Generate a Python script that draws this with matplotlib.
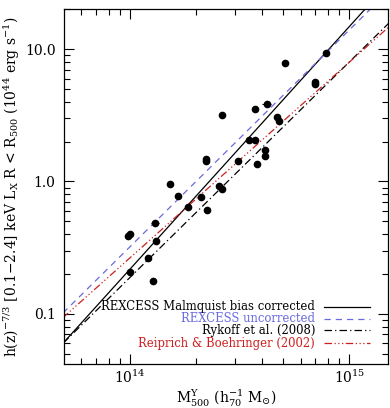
import matplotlib
matplotlib.use("Agg")
import matplotlib.pyplot as plt
import numpy as np
from matplotlib.lines import Line2D
from matplotlib.ticker import FixedLocator, NullFormatter

plt.rcParams['font.family'] = ['DejaVu Serif']
plt.rcParams['mathtext.fontset'] = 'dejavuserif'

# REXCESS clusters: M500 (Y_X based, 1e14 h70^-1 Msun) and scaled L_X (1e44 erg/s)
mass = [7.84, 5.10, 7.00, 6.95, 4.20, 3.72, 2.62, 4.70, 4.80, 3.50,
        3.72, 4.11, 4.11, 3.78, 3.10, 2.22, 2.21, 2.54, 2.63, 2.10,
        1.83, 2.24, 1.66, 1.52, 1.30, 0.975, 1.00, 1.32, 1.21, 1.00, 1.27]
lum = [9.34, 7.80, 5.63, 5.48, 3.88, 3.54, 3.19, 3.06, 2.84, 2.07,
       2.05, 1.74, 1.57, 1.36, 1.43, 1.48, 1.42, 0.917, 0.878, 0.767,
       0.639, 0.611, 0.776, 0.957, 0.485, 0.388, 0.402, 0.354, 0.266, 0.208, 0.176]
mass_err = [0, 0, 0, 0, 0.20, 0, 0, 0, 0, 0,
            0, 0, 0, 0, 0, 0, 0, 0, 0, 0,
            0, 0, 0, 0, 0.06, 0, 0, 0, 0, 0, 0]

# relations L = A * (M / 2e14)^B
fit_names = ["REXCESS Malmquist bias corrected", "REXCESS uncorrected",
             "Rykoff et al. (2008)", "Reiprich & Boehringer (2002)"]
fit_norm = [0.775, 1.00, 0.582, 0.738]
fit_slope = [1.835, 1.64, 1.63, 1.48]
fit_colors = ["black", "#6a6ae0", "black", "#cc1f1f"]
fit_dashes = [None, (5, 4), (6, 2.5, 1, 2.5), (6, 2, 1, 2, 1, 2, 1, 2)]

fig = plt.figure(figsize=(3.9, 4.08), dpi=100)
ax = fig.add_axes([0.164, 0.109, 0.831, 0.868])
ax.set_xscale('log')
ax.set_yscale('log')

m = np.logspace(13, 16, 200)
for name, a, b, c, d in zip(fit_names, fit_norm, fit_slope, fit_colors, fit_dashes):
    ln, = ax.plot(m, a * (m / 2e14) ** b, color=c, lw=0.9)
    if d is not None:
        ln.set_dashes(d)

mm = np.array(mass) * 1e14
ax.errorbar(mm, lum, xerr=np.array(mass_err) * 1e14, fmt='o', color='black',
            ms=4.5, elinewidth=0.8, capsize=0, zorder=5)

ax.set_xlim(5e13, 1.5e15)
ax.set_ylim(0.042, 20)

ax.xaxis.set_major_locator(FixedLocator([1e14, 1e15]))
ax.set_xticklabels([r'$10^{14}$', r'$10^{15}$'])
ax.xaxis.set_minor_locator(FixedLocator([k * 1e13 for k in range(6, 10)] +
                                        [k * 1e14 for k in range(2, 10)]))
ax.xaxis.set_minor_formatter(NullFormatter())
ax.yaxis.set_major_locator(FixedLocator([0.1, 1.0, 10.0]))
ax.set_yticklabels(['0.1', '1.0', '10.0'])
ax.yaxis.set_minor_locator(FixedLocator([k * 0.01 for k in range(5, 10)] +
                                        [k * 0.1 for k in range(2, 10)] +
                                        [k * 1.0 for k in range(2, 10)] + [20]))
ax.yaxis.set_minor_formatter(NullFormatter())
ax.tick_params(which='both', direction='in', top=True, right=True, labelsize=10, width=0.8)
ax.tick_params(which='major', length=7)
ax.tick_params(axis='x', which='major', pad=4)
ax.tick_params(axis='y', which='major', pad=6)
ax.tick_params(which='minor', length=4)
for s in ax.spines.values():
    s.set_linewidth(0.9)

ax.set_xlabel(r'M$^{\rm Y}_{500}$ (h$_{70}^{-1}$ M$_{\odot}$)', fontsize=10, labelpad=1)
ax.set_ylabel(r'h(z)$^{-7/3}$ [0.1$-$2.4] keV L$_{\rm X}$ R < R$_{500}$ (10$^{44}$ erg s$^{-1}$)',
              fontsize=10, labelpad=2)

# legend: right-aligned text, line sample to the right
leg_y = [0.160, 0.127, 0.094, 0.057]
for name, c, d, y in zip(fit_names, fit_colors, fit_dashes, leg_y):
    ax.text(0.775, y, name, transform=ax.transAxes, ha='right', va='center',
            color=c, fontsize=8.4)
    ln = Line2D([0.802, 0.944], [y, y], transform=ax.transAxes, color=c, lw=0.9)
    if d is not None:
        ln.set_dashes(d)
    ax.add_line(ln)

fig.savefig('out.png', dpi=100)
